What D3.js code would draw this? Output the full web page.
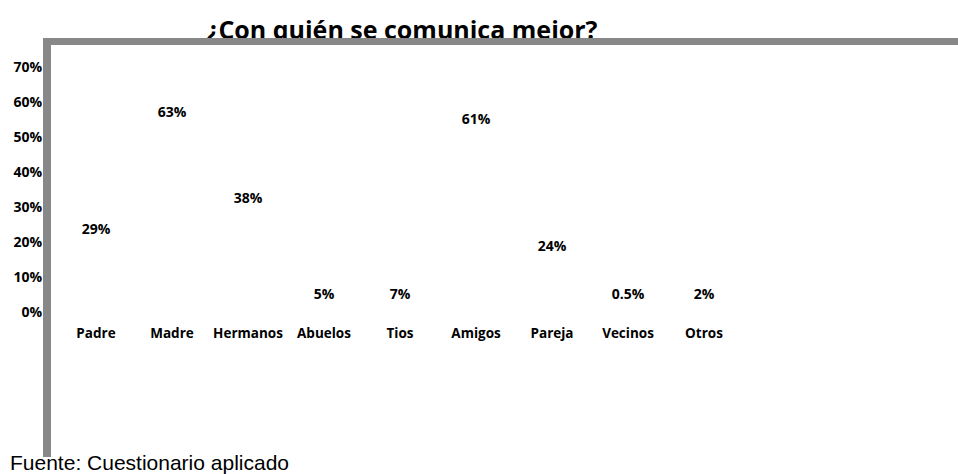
<!DOCTYPE html>
<html>
<head>
<meta charset="utf-8">
<script src="https://cdn.jsdelivr.net/npm/d3@7"></script>
<style>
  html, body { margin: 0; padding: 0; background: #fff; }
  svg { display: block; }
</style>
</head>
<body>
<div id="chart"></div>
<script>
const categories = ['Padre', 'Madre', 'Hermanos', 'Abuelos', 'Tios', 'Amigos', 'Pareja', 'Vecinos', 'Otros']
const values = [29, 63, 38, 5, 7, 61, 24, 0.5, 2]
const valueLabels = ['29%', '63%', '38%', '5%', '7%', '61%', '24%', '0.5%', '2%']
const yTicks = [0, 0.1, 0.2, 0.3, 0.4, 0.5, 0.6, 0.7]

const W = 958, H = 474
const FONT = "'Open Sans', 'Noto Sans', sans-serif"
const FRAME = '#888888'

const svg = d3.select('#chart').append('svg')
  .attr('width', W).attr('height', H)
  .style('font-family', FONT)

// titulo (queda tapado por el marco abajo)
svg.append('text')
  .attr('x', 402).attr('y', 39)
  .attr('text-anchor', 'middle')
  .attr('font-size', '25px')
  .attr('font-weight', 'bold')
  .attr('fill', '#000')
  .text('¿Con quién se comunica mejor?')

// escalas
const x = d3.scaleBand().domain(categories).range([58, 742]).padding(0)
const yAxisScale = d3.scaleLinear().domain([0, 0.7]).range([312, 67])
const yBar = d3.scaleLinear().domain([0, 70]).range([334, 93])

// eje Y, solo etiquetas
const yAxis = svg.append('g')
  .attr('transform', 'translate(44,0)')
  .call(d3.axisLeft(yAxisScale).tickValues(yTicks).tickFormat(d3.format('.0%')).tickSize(0).tickPadding(2))
yAxis.select('.domain').remove()
yAxis.selectAll('.tick line').remove()
yAxis.selectAll('text')
  .attr('font-size', '14px')
  .attr('font-weight', 'bold')
  .attr('font-family', FONT)
  .attr('fill', '#000')

// etiquetas de categoria
const xAxis = svg.append('g')
  .attr('transform', 'translate(0,328)')
  .call(d3.axisBottom(x).tickSize(0).tickPadding(0))
xAxis.select('.domain').remove()
xAxis.selectAll('.tick line').remove()
xAxis.selectAll('text')
  .attr('font-size', '13.5px')
  .attr('font-weight', 'bold')
  .attr('font-family', FONT)
  .attr('fill', '#000')

// etiquetas de valor
svg.append('g').selectAll('text')
  .data(values)
  .join('text')
  .attr('x', (d, i) => x(categories[i]) + x.bandwidth() / 2)
  .attr('y', d => Math.min(yBar(d), 299))
  .attr('text-anchor', 'middle')
  .attr('font-size', '14px')
  .attr('font-weight', 'bold')
  .attr('fill', '#000')
  .text((d, i) => valueLabels[i])

// marco gris
svg.append('rect').attr('x', 43).attr('y', 38).attr('width', W - 43).attr('height', 7).attr('fill', FRAME)
svg.append('rect').attr('x', 43).attr('y', 38).attr('width', 8).attr('height', 419).attr('fill', FRAME)

// fuente
svg.append('text')
  .attr('x', 10).attr('y', 470)
  .attr('font-family', "'Liberation Sans', Arial, sans-serif")
  .attr('font-size', '21px')
  .attr('fill', '#000')
  .text('Fuente: Cuestionario aplicado')
</script>
</body>
</html>
